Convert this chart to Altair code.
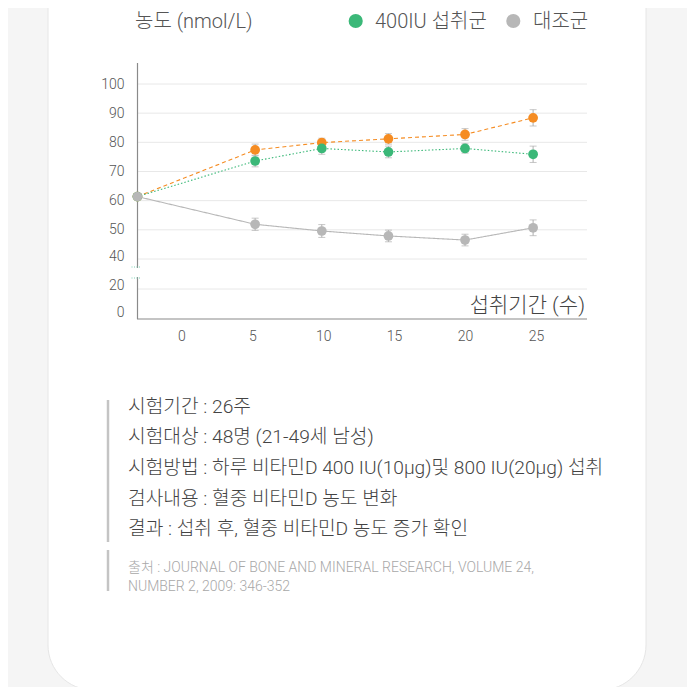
import altair as alt
import pandas as pd

# ---------------- data ----------------
weeks = [-3.1, 5.2, 9.9, 14.6, 20.0, 24.8]
series_names = ["800IU 섭취군", "400IU 섭취군", "대조군"]
iu800 = [61.4, 77.4, 79.9, 81.2, 82.7, 88.4]
iu400 = [61.4, 73.6, 77.9, 76.7, 77.9, 75.9]
control = [61.4, 51.9, 49.6, 47.9, 46.5, 50.7]
err800 = [0, 2.0, 1.5, 1.8, 2.0, 2.8]
err400 = [0, 2.0, 2.0, 2.0, 1.6, 2.8]
errctl = [0, 2.1, 2.2, 2.0, 2.0, 2.7]

x_ticks = [0, 5, 10, 15, 20, 25]
y_ticks = [0, 20, 40, 50, 60, 70, 80, 90, 100]
grid_vals = [20, 40, 50, 60, 70, 80, 90, 100]

y_title = "농도 (nmol/L)"
x_title = "섭취기간 (수)"
legend_items = ["400IU 섭취군", "대조군"]
info_lines = [
    "시험기간 : 26주",
    "시험대상 : 48명 (21-49세 남성)",
    "시험방법 : 하루 비타민D 400 IU(10μg)및 800 IU(20μg) 섭취",
    "검사내용 : 혈중 비타민D 농도 변화",
    "결과 : 섭취 후, 혈중 비타민D 농도 증가 확인",
]
source_lines = [
    "출처 : JOURNAL OF BONE AND MINERAL RESEARCH, VOLUME 24,",
    "NUMBER 2, 2009: 346-352",
]

colors = ["#F58C22", "#3BB878", "#B7B7B7"]
FONT = "Roboto, 'Noto Sans CJK KR', sans-serif"

rows = []
for name, vals, errs in zip(series_names, [iu800, iu400, control], [err800, err400, errctl]):
    for w, v, e in zip(weeks, vals, errs):
        rows.append({"week": w, "value": v, "err": e, "series": name,
                     "lo": v - e, "hi": v + e})
df = pd.DataFrame(rows)
df_err = df[df["err"] > 0]

W, H = 450, 256
xscale = alt.Scale(domain=[-3.13, 28.6], range=[0, W], nice=False, zero=False)
yscale = alt.Scale(domain=[0, 40, 107.2], range=[H, 196, 0], nice=False, zero=False)
cscale = alt.Scale(domain=series_names, range=colors)

common = dict(domain=False, ticks=False, grid=False, title=None,
              labelFont=FONT, labelFontWeight=300, labelFontSize=14,
              labelColor="#555555", zindex=1, labelOverlap=False, labelFlush=False)
x_axis = alt.Axis(values=x_ticks, labelPadding=10, **common)
y_axis = alt.Axis(values=y_ticks, labelPadding=13,
                  labelOffset={"condition": [
                      {"test": "datum.value == 0", "value": -7},
                      {"test": "datum.value == 20", "value": -4},
                      {"test": "datum.value == 40", "value": -3}],
                      "value": 0},
                  **common)

def XQ(field):
    return alt.X(field, scale=xscale, axis=x_axis, title=None)

def YQ(field):
    return alt.Y(field, scale=yscale, axis=y_axis, title=None)

one = pd.DataFrame({"a": [0]})

card = alt.Chart(one).mark_rect(fill="white", stroke="#E6E6E6", strokeWidth=1,
                                cornerRadius=45).encode(
    x=alt.value(-89), x2=alt.value(509), y=alt.value(-120), y2=alt.value(627))

grid = alt.Chart(pd.DataFrame({"g": grid_vals})).mark_rule(
    color="#E8E8E8", strokeWidth=1).encode(
    y=YQ("g:Q"), x=alt.value(0), x2=alt.value(W))

yaxis1 = alt.Chart(one).mark_rule(color="#8A8A8A", strokeWidth=1.2).encode(
    x=alt.value(0.5), y=alt.value(0), y2=alt.value(205))
yaxis2 = alt.Chart(one).mark_rule(color="#8A8A8A", strokeWidth=1.2).encode(
    x=alt.value(0.5), y=alt.value(214), y2=alt.value(H))
xaxis = alt.Chart(one).mark_rule(color="#8A8A8A", strokeWidth=1.2).encode(
    x=alt.value(0), x2=alt.value(W), y=alt.value(H))
brk1 = alt.Chart(one).mark_rule(color="#7FD3B6", strokeWidth=1, strokeDash=[1, 1.5]).encode(
    x=alt.value(-5.5), x2=alt.value(4.5), y=alt.value(204))
brk2 = alt.Chart(one).mark_rule(color="#7FD3B6", strokeWidth=1, strokeDash=[1, 1.5]).encode(
    x=alt.value(-5.5), x2=alt.value(4.5), y=alt.value(215))

ebar = alt.Chart(df_err).mark_rule(color="#AFAFAF", strokeWidth=1).encode(
    x=XQ("week:Q"), y=YQ("lo:Q"), y2="hi:Q")
cap_lo = alt.Chart(df_err).mark_tick(color="#AFAFAF", orient="horizontal", size=7, thickness=1).encode(
    x=XQ("week:Q"), y=YQ("lo:Q"))
cap_hi = alt.Chart(df_err).mark_tick(color="#AFAFAF", orient="horizontal", size=7, thickness=1).encode(
    x=XQ("week:Q"), y=YQ("hi:Q"))

lines = alt.Chart(df).mark_line(strokeWidth=1.1).encode(
    x=XQ("week:Q"), y=YQ("value:Q"),
    color=alt.Color("series:N", scale=cscale, legend=None),
    strokeDash=alt.StrokeDash("series:N", scale=alt.Scale(domain=series_names,
                              range=[[4, 3], [1.5, 2], [1, 0]]), legend=None),
    detail="series:N")

points = alt.Chart(df).mark_circle(size=95, opacity=1).encode(
    x=XQ("week:Q"), y=YQ("value:Q"),
    color=alt.Color("series:N", scale=cscale, legend=None))

texts = []
def txt(s, x, y, size, color, align="left", weight=300):
    return alt.Chart(one).mark_text(text=s, font=FONT, fontSize=size, fontWeight=weight,
                                    color=color, align=align, baseline="middle").encode(
        x=alt.value(x), y=alt.value(y))

texts.append(txt(y_title, -2, -41, 20, "#555555"))
texts.append(alt.Chart(one).mark_circle(size=200, color=colors[1], opacity=1).encode(
    x=alt.value(218.7), y=alt.value(-42)))
texts.append(txt(legend_items[0], 238, -41, 20, "#555555"))
texts.append(alt.Chart(one).mark_circle(size=200, color=colors[2], opacity=1).encode(
    x=alt.value(376.3), y=alt.value(-42)))
texts.append(txt(legend_items[1], 396, -41, 20, "#555555"))
texts.append(txt(x_title, 448, 242.5, 21, "#444444", align="right"))

for i, s in enumerate(info_lines):
    texts.append(txt(s, -9, 343.7 + i * 30.6, 19.2, "#444444"))
for i, s in enumerate(source_lines):
    texts.append(txt(s, -9, 505 + i * 18.7, 14, "#A8A8A8"))

bar1 = alt.Chart(one).mark_rule(color="#C4C4C4", strokeWidth=2.5).encode(
    x=alt.value(-29), y=alt.value(337), y2=alt.value(479))
bar2 = alt.Chart(one).mark_rule(color="#C4C4C4", strokeWidth=2.5).encode(
    x=alt.value(-29), y=alt.value(487), y2=alt.value(528))

chart = alt.layer(
    card, grid, yaxis1, yaxis2, xaxis, brk1, brk2,
    ebar, cap_lo, cap_hi, lines, points, bar1, bar2, *texts
).properties(
    width=W, height=H,
    autosize=alt.AutoSizeParams(type="none"),
    padding={"left": 129, "top": 55, "right": 100, "bottom": 368},
    background="#F5F5F5",
).configure_view(stroke=None).configure_axis(labelOverlap=False)

chart.save("out.html", embed_options={"renderer": "svg", "actions": False})
